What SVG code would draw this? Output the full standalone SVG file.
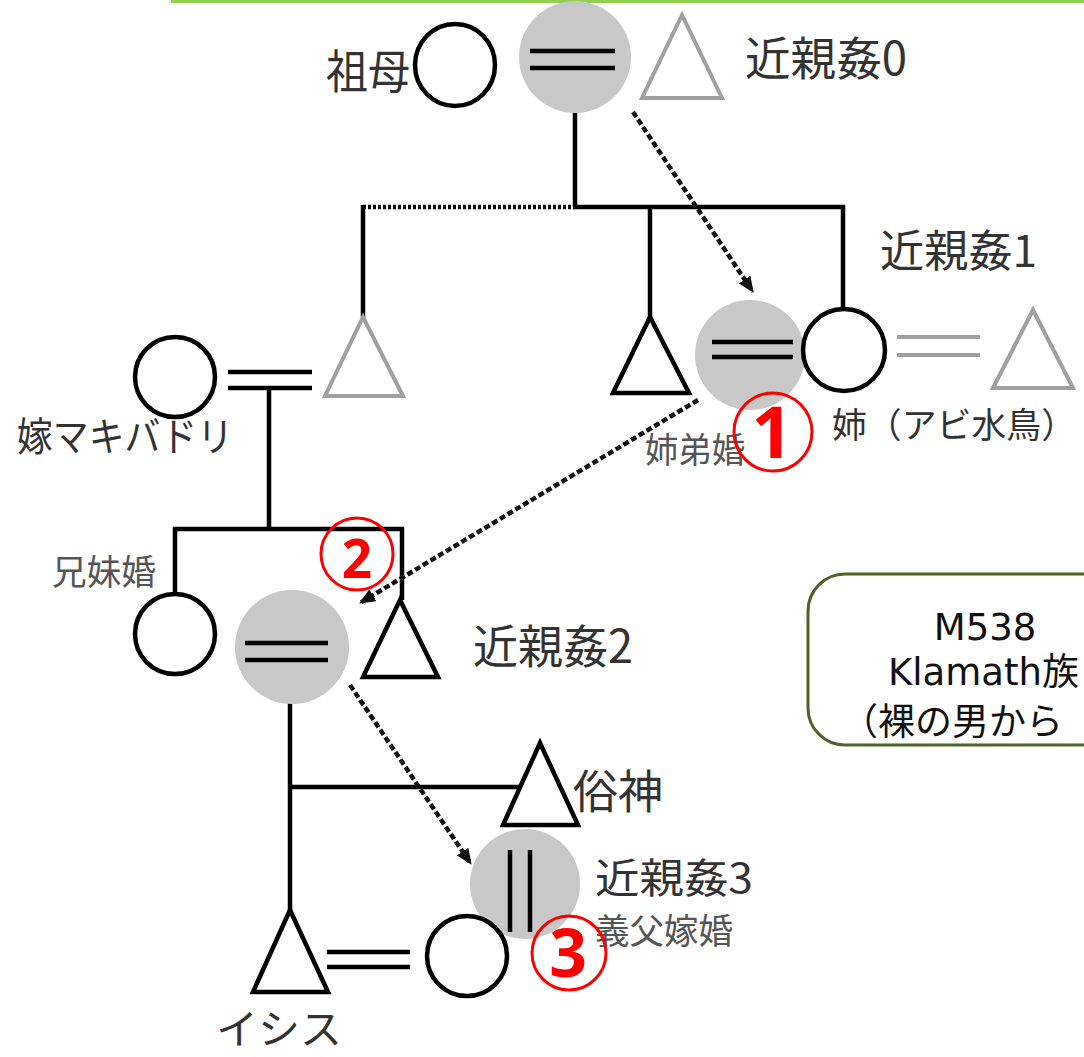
<svg xmlns="http://www.w3.org/2000/svg" width="1084" height="1057" viewBox="0 0 1084 1057">
<defs>
<style>
.bk{fill:#fff;stroke:#000;stroke-width:4.5}
.gr{fill:#fff;stroke:#a0a0a0;stroke-width:4}
.sh{fill:#c8c8c8;stroke:none}
.ln{stroke:#000;stroke-width:4.5;fill:none}
.gl{stroke:#a0a0a0;stroke-width:4;fill:none}
.dot{stroke:#000;stroke-width:4.5;fill:none;stroke-dasharray:3 2}
.arr{stroke:#111;stroke-width:4.5;fill:none;stroke-dasharray:6 3;marker-end:url(#ah)}
.lb{font-family:"Noto Sans CJK JP","Noto Sans",sans-serif;fill:#333}
.sm{font-family:"Noto Sans CJK JP","Noto Sans",sans-serif;fill:#555}
.rc{fill:none;stroke:#ff0000;stroke-width:3}
.rn{font-family:"Open Sans","Liberation Sans",sans-serif;font-weight:bold;fill:#ff0000;text-anchor:middle}
.bx{font-family:"DejaVu Sans","Noto Sans CJK JP",sans-serif;font-size:37px;fill:#111}
</style>
<marker id="ah" viewBox="0 0 16 14" refX="15" refY="7" markerWidth="16" markerHeight="14" markerUnits="userSpaceOnUse" orient="auto">
<path d="M0,0 L16,7 L0,14 z" fill="#111"/>
</marker>
</defs>
<rect width="1084" height="1057" fill="#fff"/>
<rect x="171" y="0" width="913" height="3" fill="#92d050"/>

<g id="connectors">
<line class="ln" x1="575" y1="68" x2="575" y2="207"/>
<line class="dot" x1="363" y1="207" x2="575" y2="207"/>
<line class="ln" x1="573" y1="207" x2="845" y2="207"/>
<line class="ln" x1="363" y1="205" x2="363" y2="317"/>
<line class="ln" x1="650" y1="207" x2="650" y2="317"/>
<line class="ln" x1="843" y1="205" x2="843" y2="309"/>
<line class="ln" x1="269" y1="388" x2="269" y2="529"/>
<polyline class="ln" points="175,594 175,529 402,529 402,600"/>
<line class="ln" x1="290" y1="660" x2="290" y2="910"/>
<line class="ln" x1="290" y1="787" x2="521" y2="787"/>
<path class="arr" d="M633,112 L753,292"/>
<path class="arr" d="M698,400 L360,603"/>
<path class="arr" d="M350,685 L471,864"/>
</g>

<g id="incest0">
<circle class="sh" cx="575" cy="57" r="56"/>
<line class="ln" x1="530" y1="51" x2="615" y2="51"/>
<line class="ln" x1="530" y1="68" x2="615" y2="68"/>
<text class="lb" x="745" y="75" font-size="46" textLength="162" lengthAdjust="spacingAndGlyphs">近親姦0</text>
</g>
<g id="grandmother">
<ellipse class="bk" cx="455" cy="65" rx="40" ry="41"/>
<text class="lb" x="326" y="88" font-size="46" textLength="84" lengthAdjust="spacingAndGlyphs">祖母</text>
</g>
<g id="grandfather">
<polygon class="gr" points="682,15 642,98 722,98"/>
</g>

<g id="husband-left">
<polygon class="gr" points="363,317 325,396 403,396"/>
</g>
<g id="bride">
<circle class="bk" cx="175" cy="377" r="40"/>
<line class="ln" x1="228" y1="372" x2="312" y2="372"/>
<line class="ln" x1="228" y1="388" x2="312" y2="388"/>
<text class="lb" x="17" y="451" font-size="40" textLength="216" lengthAdjust="spacingAndGlyphs">嫁マキバドリ</text>
</g>

<g id="brother">
<polygon class="bk" points="650,317 613,393 689,393"/>
</g>
<g id="incest1">
<circle class="sh" cx="750" cy="355" r="55"/>
<line class="ln" x1="712" y1="342" x2="793" y2="342"/>
<line class="ln" x1="712" y1="357" x2="793" y2="357"/>
<text class="lb" x="880" y="267" font-size="44" textLength="157" lengthAdjust="spacingAndGlyphs">近親姦1</text>
<text class="sm" x="645" y="463" font-size="35" textLength="100" lengthAdjust="spacingAndGlyphs">姉弟婚</text>
</g>
<g id="sister">
<circle class="bk" cx="844" cy="350" r="41"/>
<text class="lb" x="832" y="438" font-size="35" textLength="244" lengthAdjust="spacingAndGlyphs">姉（アビ水鳥）</text>
</g>
<g id="loon">
<line class="gl" x1="897" y1="337" x2="980" y2="337"/>
<line class="gl" x1="897" y1="355" x2="980" y2="355"/>
<polygon class="gr" points="1033,310 993,388 1073,388"/>
</g>
<g id="mark1">
<circle class="rc" cx="773" cy="432" r="39"/>
<text class="rn" x="772" y="458" font-size="72">1</text>
</g>

<g id="sibling-sister">
<circle class="bk" cx="175" cy="634" r="40"/>
<text class="sm" x="52" y="585" font-size="35" textLength="104" lengthAdjust="spacingAndGlyphs">兄妹婚</text>
</g>
<g id="incest2">
<circle class="sh" cx="292" cy="647" r="57"/>
<line class="ln" x1="245" y1="643" x2="328" y2="643"/>
<line class="ln" x1="245" y1="660" x2="328" y2="660"/>
<text class="lb" x="473" y="663" font-size="46" textLength="160" lengthAdjust="spacingAndGlyphs">近親姦2</text>
</g>
<g id="sibling-brother">
<polygon class="bk" points="400,600 363,677 438,677"/>
</g>
<g id="mark2">
<circle class="rc" cx="357" cy="554" r="36"/>
<text class="rn" x="357" y="578" font-size="53">2</text>
</g>

<g id="zokushin">
<polygon class="bk" points="540,743 503,825 578,825"/>
<text class="lb" x="573" y="808" font-size="46" textLength="90" lengthAdjust="spacingAndGlyphs">俗神</text>
</g>
<g id="incest3">
<circle class="sh" cx="525" cy="884" r="55"/>
<line class="ln" x1="510" y1="850" x2="510" y2="932"/>
<line class="ln" x1="530" y1="850" x2="530" y2="932"/>
<text class="lb" x="595" y="893" font-size="41" textLength="158" lengthAdjust="spacingAndGlyphs">近親姦3</text>
<text class="sm" x="595" y="944" font-size="35" textLength="138" lengthAdjust="spacingAndGlyphs">義父嫁婚</text>
</g>
<g id="isis">
<polygon class="bk" points="290,910 253,992 328,992"/>
<line class="ln" x1="327" y1="952" x2="410" y2="952"/>
<line class="ln" x1="327" y1="967" x2="410" y2="967"/>
<text class="lb" x="216" y="1044" font-size="41" textLength="126" lengthAdjust="spacingAndGlyphs">イシス</text>
</g>
<g id="wife">
<circle class="bk" cx="467" cy="956" r="40"/>
</g>
<g id="mark3">
<circle class="rc" cx="569" cy="953" r="37"/>
<text class="rn" x="568" y="977" font-size="66">3</text>
</g>

<g id="infobox">
<rect x="808" y="574" width="330" height="171" rx="37" ry="37" fill="#fff" stroke="#4f6228" stroke-width="3"/>
<text class="bx" x="985" y="640" text-anchor="middle">M538</text>
<text class="bx" x="888" y="685">Klamath族</text>
<text class="bx" x="841" y="735">（裸の男から</text>
</g>
</svg>
